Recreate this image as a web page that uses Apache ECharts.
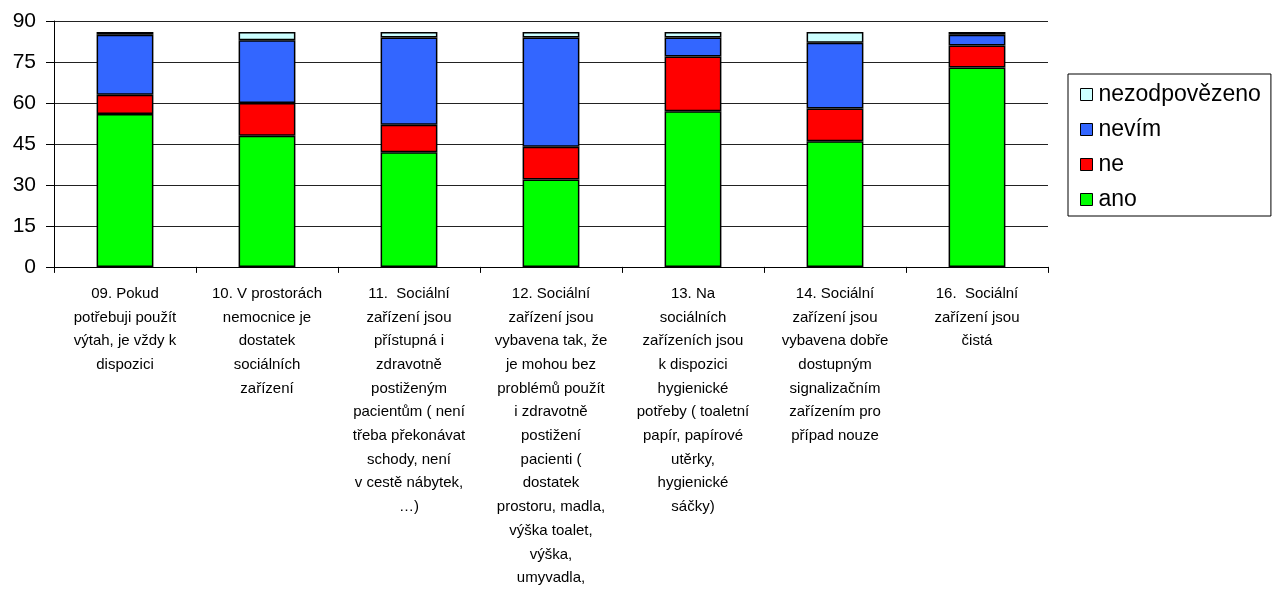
<!DOCTYPE html>
<html>
<head>
<meta charset="utf-8">
<script src="https://cdn.jsdelivr.net/npm/echarts@6/dist/echarts.min.js"></script>
<style>
html,body{margin:0;padding:0;background:#fff;}
#chart{width:1278px;height:590px;}
</style>
</head>
<body>
<div id="chart"></div>
<script>
const categories = [
  "09. Pokud\npotřebuji použít\nvýtah, je vždy k\ndispozici",
  "10. V prostorách\nnemocnice je\ndostatek\nsociálních\nzařízení",
  "11.  Sociální\nzařízení jsou\npřístupná i\nzdravotně\npostiženým\npacientům ( není\ntřeba překonávat\nschody, není\nv cestě nábytek,\n…)",
  "12. Sociální\nzařízení jsou\nvybavena tak, že\nje mohou bez\nproblémů použít\ni zdravotně\npostižení\npacienti (\ndostatek\nprostoru, madla,\nvýška toalet,\nvýška,\numyvadla,",
  "13. Na\nsociálních\nzařízeních jsou\nk dispozici\nhygienické\npotřeby ( toaletní\npapír, papírové\nutěrky,\nhygienické\nsáčky)",
  "14. Sociální\nzařízení jsou\nvybavena dobře\ndostupným\nsignalizačním\nzařízením pro\npřípad nouze",
  "16.  Sociální\nzařízení jsou\nčistá"
];
const seriesNames = ["ano", "ne", "nevím", "nezodpovězeno"];
const ano = [56, 48, 42, 32, 57, 46, 73];
const ne = [7, 12, 10, 12, 20, 12, 8];
const nevim = [22, 23, 32, 40, 7, 24, 4];
const nezodpovezeno = [1, 3, 2, 2, 2, 4, 1];
const yTicks = { min: 0, max: 90, interval: 15 };

const colors = ["#00FF00", "#FF0000", "#3366FF", "#CCFFFF"];
const values = [ano, ne, nevim, nezodpovezeno];

const chart = echarts.init(document.getElementById('chart'), null, {renderer: 'canvas'});
const font = "'Liberation Sans', Arial, sans-serif";

chart.setOption({
  animation: false,
  backgroundColor: '#ffffff',
  textStyle: { fontFamily: font, color: '#000' },
  grid: { left: 54, right: 230, top: 21, bottom: 322, containLabel: false },
  legend: {
    orient: 'vertical',
    left: 1068,
    top: 74,
    width: 204,
    padding: [9, 10, 5, 12],
    itemGap: 12,
    itemWidth: 12,
    itemHeight: 12,
    icon: 'rect',
    borderColor: '#000',
    borderWidth: 1,
    itemStyle: { borderColor: '#000', borderWidth: 1 },
    textStyle: { fontFamily: font, fontSize: 23, color: '#000', padding: [0, 0, 0, 1] },
    data: ["nezodpovězeno", "nevím", "ne", "ano"]
  },
  xAxis: {
    type: 'category',
    data: categories,
    boundaryGap: true,
    axisLine: { lineStyle: { color: '#000', width: 1 } },
    axisTick: { show: true, length: 6, alignWithLabel: false, lineStyle: { color: '#000' } },
    axisLabel: {
      interval: 0,
      fontFamily: font,
      fontSize: 15,
      lineHeight: 23.7,
      color: '#000',
      margin: 15,
      align: 'center'
    },
    splitLine: { show: false }
  },
  yAxis: {
    type: 'value',
    min: yTicks.min,
    max: yTicks.max,
    interval: yTicks.interval,
    axisLine: { show: true, lineStyle: { color: '#000', width: 1 } },
    axisTick: { show: true, length: 8, lineStyle: { color: '#000' } },
    axisLabel: { fontFamily: font, fontSize: 21, color: '#000', margin: 18 },
    splitLine: { show: true, lineStyle: { color: '#222', width: 1 } }
  },
  series: seriesNames.map((name, i) => ({
    name: name,
    type: 'bar',
    stack: 'total',
    barWidth: '40%',
    data: values[i],
    itemStyle: { color: colors[i], borderColor: '#000', borderWidth: 1.5 },
    emphasis: { disabled: true }
  }))
});
</script>
</body>
</html>
